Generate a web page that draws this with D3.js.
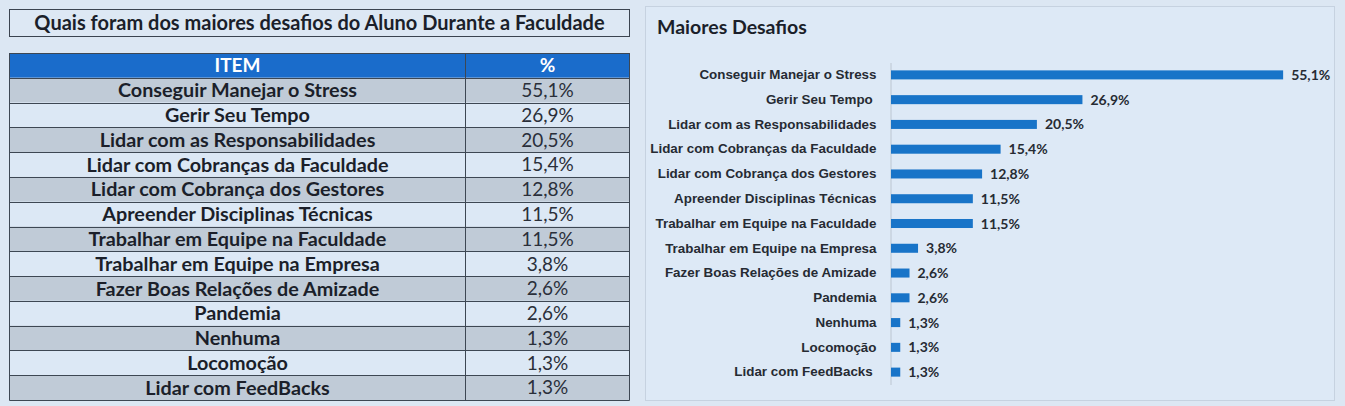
<!DOCTYPE html>
<html>
<head>
<meta charset="utf-8">
<script src="https://cdn.jsdelivr.net/npm/d3@7/dist/d3.min.js"></script>
<style>
body { margin: 0; background: #dce7f3; }
svg { display: block; font-family: Lato, "Open Sans", sans-serif; }
.cat text { font-size: 13.4px; font-weight: 600; fill: #262b33; }
.cat path { stroke: #bcc6d1; }
</style>
</head>
<body>
<div id="chart"></div>
<script>

var tableTitle = "Quais foram dos maiores desafios do Aluno Durante a Faculdade";
var chartTitle = "Maiores Desafios";
var headers = ["ITEM", "%"];

var items = [
  "Conseguir Manejar o Stress",
  "Gerir Seu Tempo",
  "Lidar com as Responsabilidades",
  "Lidar com Cobranças da Faculdade",
  "Lidar com Cobrança dos Gestores",
  "Apreender Disciplinas Técnicas",
  "Trabalhar em Equipe na Faculdade",
  "Trabalhar em Equipe na Empresa",
  "Fazer Boas Relações de Amizade",
  "Pandemia",
  "Nenhuma",
  "Locomoção",
  "Lidar com FeedBacks"
];

// chart labels (a couple have a trailing space in the source)
var chartLabels = [
  "Conseguir Manejar o Stress",
  "Gerir Seu Tempo\u00a0",
  "Lidar com as Responsabilidades",
  "Lidar com Cobranças da Faculdade",
  "Lidar com Cobrança dos Gestores",
  "Apreender Disciplinas Técnicas",
  "Trabalhar em Equipe na Faculdade",
  "Trabalhar em Equipe na Empresa",
  "Fazer Boas Relações de Amizade",
  "Pandemia",
  "Nenhuma",
  "Locomoção",
  "Lidar com FeedBacks\u00a0"
];

var values = [55.1, 26.9, 20.5, 15.4, 12.8, 11.5, 11.5, 3.8, 2.6, 2.6, 1.3, 1.3, 1.3];

var width = 1345;
var height = 406;

var pt = d3.formatLocale({decimal: ",", thousands: ".", grouping: [3], currency: ["R$", ""]});
var fmt = function(v) { return pt.format(".1f")(v) + "%"; };

var svg = d3.select("#chart")
  .append("svg")
    .attr("width", width)
    .attr("height", height);

// ---------- table on the left ----------
var tbl = {left: 9.5, right: 629.5, div: 465.5, top: 53, bottom: 400};

svg.append("rect")
  .attr("x", 9.5).attr("y", 9.5)
  .attr("width", 620).attr("height", 27)
  .attr("fill", "#dde8f4")
  .attr("stroke", "#3b4450");

svg.append("text")
  .attr("x", (tbl.left + tbl.right) / 2)
  .attr("y", 23)
  .attr("dy", "0.35em")
  .attr("text-anchor", "middle")
  .style("font-size", "20px")
  .style("font-weight", "700")
  .attr("fill", "#1b1f2a")
  .text(tableTitle);

var rows = ["__head"].concat(items);
var rowY = d3.scaleBand()
  .domain(rows)
  .range([tbl.top, tbl.bottom]);

var tg = svg.append("g");

tg.selectAll("rect.row")
  .data(rows)
  .enter().append("rect")
    .attr("class", "row")
    .attr("x", tbl.left)
    .attr("y", d => rowY(d))
    .attr("width", tbl.right - tbl.left)
    .attr("height", rowY.bandwidth())
    .attr("fill", (d, i) => i == 0 ? "#1a6ccb" : (i % 2 ? "#c0cbd7" : "#dce8f5"));

// horizontal grid lines
tg.selectAll("line.h")
  .data(rows.concat(["__end"]))
  .enter().append("line")
    .attr("x1", tbl.left).attr("x2", tbl.right)
    .attr("y1", (d, i) => Math.round(tbl.top + i * rowY.step()) + 0.5)
    .attr("y2", (d, i) => Math.round(tbl.top + i * rowY.step()) + 0.5)
    .attr("stroke", "#3d4753");

[tbl.left, tbl.div, tbl.right].forEach(function(x) {
  tg.append("line")
    .attr("x1", x).attr("x2", x)
    .attr("y1", tbl.top).attr("y2", tbl.bottom + 0.5)
    .attr("stroke", "#3d4753");
});

// header
tg.selectAll("text.head")
  .data(headers)
  .enter().append("text")
    .attr("x", (d, i) => i == 0 ? (tbl.left + tbl.div) / 2 : (tbl.div + tbl.right) / 2)
    .attr("y", rowY("__head") + rowY.bandwidth() / 2)
    .attr("dy", "0.36em")
    .attr("text-anchor", "middle")
    .attr("fill", "#ffffff")
    .style("font-size", "19px")
    .style("font-weight", "700")
    .text(d => d);

tg.selectAll("text.item")
  .data(items)
  .enter().append("text")
    .attr("x", (tbl.left + tbl.div) / 2)
    .attr("y", d => rowY(d) + rowY.bandwidth() / 2)
    .attr("dy", "0.36em")
    .attr("text-anchor", "middle")
    .attr("fill", "#1b1f2a")
    .style("font-size", "19.8px")
    .style("font-weight", "700")
    .text(d => d);

tg.selectAll("text.pct")
  .data(values)
  .enter().append("text")
    .attr("x", (tbl.div + tbl.right) / 2)
    .attr("y", (d, i) => rowY(items[i]) + rowY.bandwidth() / 2)
    .attr("dy", "0.36em")
    .attr("text-anchor", "middle")
    .attr("fill", "#2a2f3a")
    .style("font-size", "19px")
    .text(d => fmt(d));

// ---------- bar chart on the right ----------
svg.append("rect")
  .attr("x", 645.5).attr("y", 6.5)
  .attr("width", 689).attr("height", 394)
  .attr("fill", "#dde9f6")
  .attr("stroke", "#c6d2e0");

svg.append("text")
  .attr("x", 657)
  .attr("y", 34)
  .style("font-size", "19.5px")
  .style("font-weight", "700")
  .attr("fill", "#1b1f2a")
  .text(chartTitle);

var y = d3.scaleBand()
  .domain(chartLabels)
  .range([62.5, 384.5])
  .paddingInner(0.636)
  .paddingOuter(0.318);

var x = d3.scaleLinear()
  .domain([0, 60])
  .range([891, 1318]);

svg.append("g")
  .attr("class", "cat")
  .attr("transform", "translate(890.5,0)")
  .call(d3.axisLeft(y).tickSize(0).tickPadding(14).tickSizeOuter(0));

svg.selectAll(".bar")
  .data(values)
  .enter().append("rect")
    .attr("class", "bar")
    .attr("fill", "#1874c8")
    .attr("x", x(0))
    .attr("y", (d, i) => y(chartLabels[i]))
    .attr("width", d => x(d) - x(0))
    .attr("height", y.bandwidth());

svg.selectAll(".val")
  .data(values)
  .enter().append("text")
    .attr("class", "val")
    .attr("x", d => x(d) + 8)
    .attr("y", (d, i) => y(chartLabels[i]) + y.bandwidth() / 2)
    .attr("dy", "0.36em")
    .attr("fill", "#262b33")
    .style("font-size", "14px")
    .style("font-weight", "700")
    .text(d => fmt(d));

</script>
</body>
</html>
